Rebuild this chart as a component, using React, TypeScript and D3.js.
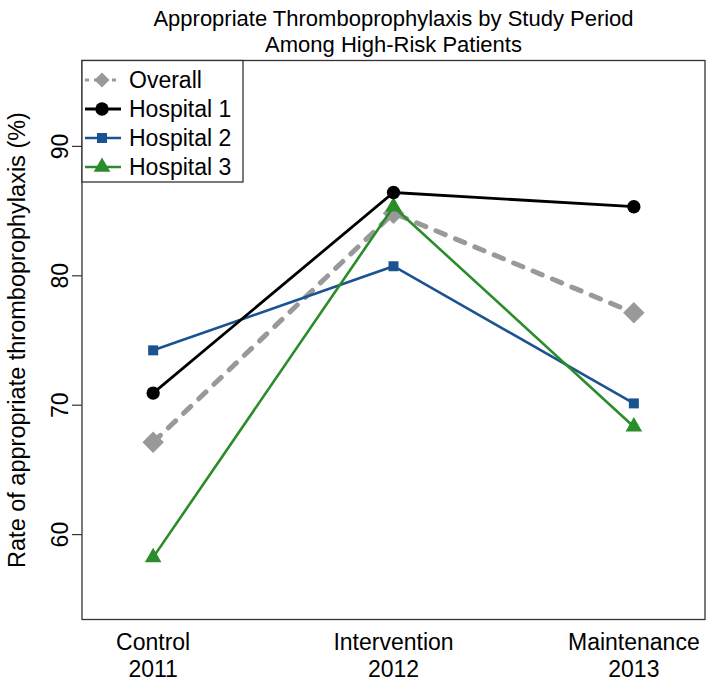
import React, { useEffect, useRef } from 'react';
import * as d3 from 'd3';

const periods = ['Control', 'Intervention', 'Maintenance'];
const years = ['2011', '2012', '2013'];
const yTicks = [60, 70, 80, 90];

const overall = [67.1, 84.8, 77.1];
const hospital1 = [70.9, 86.4, 85.3];
const hospital2 = [74.2, 80.7, 70.1];
const hospital3 = [58.2, 85.3, 68.3];

const seriesNames = ['Overall', 'Hospital 1', 'Hospital 2', 'Hospital 3'];

const W = 709;
const H = 682;

export default function App() {
  const svgRef = useRef<SVGSVGElement>(null);

  useEffect(() => {
    if (!svgRef.current) return;
    const svg = d3.select(svgRef.current);
    svg.selectAll('*').remove();

    const font = 'Liberation Sans, Arial, Helvetica, sans-serif';
    const box = { left: 82, right: 705, top: 60.5, bottom: 619.5 };

    const x = d3.scaleLinear().domain([0.704, 3.296]).range([box.left, box.right]);
    const y = d3.scaleLinear().domain([53.4, 96.6]).range([box.bottom, box.top]);

    const series = [
      { name: seriesNames[0], values: overall, color: '#999999', width: 5, dash: '10,11', shape: 'diamond' },
      { name: seriesNames[2], values: hospital2, color: '#1b5390', width: 2.6, dash: null, shape: 'square' },
      { name: seriesNames[3], values: hospital3, color: '#2a8c2a', width: 2.6, dash: null, shape: 'triangle' },
      { name: seriesNames[1], values: hospital1, color: '#000000', width: 2.8, dash: null, shape: 'circle' },
    ];

    const symbolFor = (shape: string) => {
      if (shape === 'diamond') return d3.symbol().type(d3.symbolSquare).size(230)();
      if (shape === 'square') return d3.symbol().type(d3.symbolSquare).size(100)();
      if (shape === 'triangle') return d3.symbol().type(d3.symbolTriangle).size(120)();
      return d3.symbol().type(d3.symbolCircle).size(140)();
    };

    // title
    const title = svg.append('g').attr('font-family', font).attr('font-size', 22).attr('text-anchor', 'middle');
    title.append('text').attr('x', 393.5).attr('y', 26).text('Appropriate Thromboprophylaxis by Study Period');
    title.append('text').attr('x', 393.5).attr('y', 52).text('Among High-Risk Patients');

    // lines and points
    const line = d3.line<number>().x((_, i) => x(i + 1)).y(d => y(d));
    series.forEach(s => {
      svg.append('path')
        .attr('d', line(s.values))
        .attr('fill', 'none')
        .attr('stroke', s.color)
        .attr('stroke-width', s.width)
        .attr('stroke-dasharray', s.dash)
        .attr('stroke-linecap', s.dash ? 'round' : 'butt');
      svg.selectAll(null)
        .data(s.values)
        .join('path')
        .attr('d', symbolFor(s.shape))
        .attr('transform', (d, i) => `translate(${x(i + 1)},${y(d)})${s.shape === 'diamond' ? ' rotate(45)' : ''}`)
        .attr('fill', s.color);
    });

    // box
    svg.append('rect')
      .attr('x', box.left).attr('y', box.top)
      .attr('width', box.right - box.left).attr('height', box.bottom - box.top)
      .attr('fill', 'none').attr('stroke', '#333').attr('stroke-width', 1.3);

    // y axis
    const yAxis = svg.append('g').attr('transform', `translate(${box.left},0)`)
      .call(d3.axisLeft(y).tickValues(yTicks).tickSize(10).tickPadding(8));
    yAxis.select('.domain').remove();
    yAxis.selectAll('.tick line').attr('stroke', '#333').attr('stroke-width', 1.2);
    yAxis.selectAll('.tick text')
      .attr('font-family', font).attr('font-size', 23).attr('fill', '#000')
      .attr('text-anchor', 'middle').attr('dy', null)
      .attr('transform', 'translate(-21,0) rotate(-90)')
      .attr('x', 0).attr('y', 7);

    svg.append('text')
      .attr('transform', `translate(25,${(box.top + box.bottom) / 2}) rotate(-90)`)
      .attr('text-anchor', 'middle')
      .attr('font-family', font).attr('font-size', 23.5)
      .text('Rate of appropriate thromboprophylaxis (%)');

    // x labels
    const xl = svg.append('g').attr('font-family', font).attr('font-size', 23).attr('text-anchor', 'middle');
    periods.forEach((p, i) => {
      xl.append('text').attr('x', x(i + 1)).attr('y', 650).text(p);
      xl.append('text').attr('x', x(i + 1)).attr('y', 677).text(years[i]);
    });

    // legend
    const leg = svg.append('g');
    leg.append('rect')
      .attr('x', box.left).attr('y', box.top)
      .attr('width', 161).attr('height', 121.5)
      .attr('fill', '#fff').attr('stroke', '#333').attr('stroke-width', 1.3);
    const legOrder = [series[0], series[3], series[1], series[2]];
    legOrder.forEach((s, i) => {
      const ly = 80 + i * 29;
      leg.append('line')
        .attr('x1', box.left + 3).attr('x2', 121).attr('y1', ly).attr('y2', ly)
        .attr('stroke', s.color)
        .attr('stroke-width', s.shape === 'diamond' ? 3 : s.width)
        .attr('stroke-dasharray', s.dash ? '4,5' : null);
      leg.append('path')
        .attr('d', symbolFor(s.shape))
        .attr('transform', `translate(102,${ly})${s.shape === 'diamond' ? ' rotate(45) scale(0.7)' : ''}`)
        .attr('fill', s.color);
      leg.append('text')
        .attr('x', 129).attr('y', ly + 8)
        .attr('font-family', font).attr('font-size', 23)
        .text(s.name);
    });
  }, []);

  return (
    <svg ref={svgRef} width={W} height={H}
      style={{ position: 'absolute', left: 0, top: 0, background: '#fff' }} />
  );
}
